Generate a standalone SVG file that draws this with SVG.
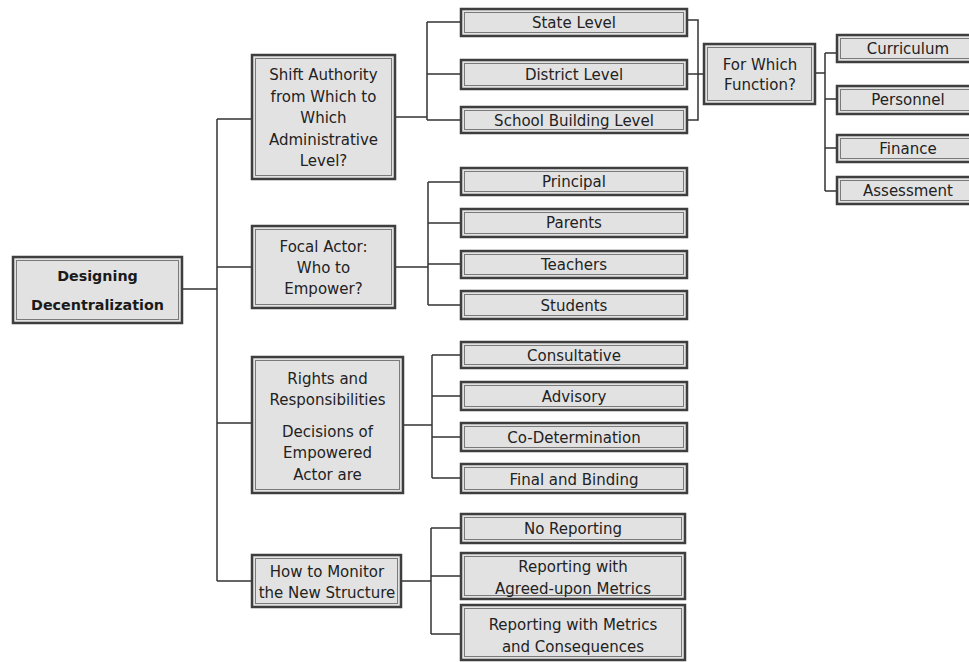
<svg xmlns="http://www.w3.org/2000/svg" width="969" height="662" viewBox="0 0 969 662">
<defs>
<style>
.bx{fill:#e2e2e2;stroke:#3e3e3e;stroke-width:2.5}
.in{fill:none;stroke:#7a7a7a;stroke-width:1}
.t{font-family:"DejaVu Sans","Liberation Sans",sans-serif;font-size:15px;fill:#222;text-anchor:middle}
.b{font-family:"DejaVu Sans","Liberation Sans",sans-serif;font-size:14.3px;font-weight:bold;fill:#1a1a1a;text-anchor:middle}
.c{fill:none;stroke:#333;stroke-width:1.5}
</style>
</defs>
<rect width="969" height="662" fill="#ffffff"/>
<g id="connectors">
<path class="c" d="M182,289 H217 M217,119 V581 M217,119 H252 M217,267 H252 M217,423 H252 M217,581 H252"/>
<path class="c" d="M395,117 H427 M427,22 V120 M427,22 H461 M427,74 H461 M427,120 H461"/>
<path class="c" d="M687,20 H698 V120 H687 M687,74 H704"/>
<path class="c" d="M815,73 H825 M825,53 V191 M825,53 H837 M825,99 H837 M825,148 H837 M825,191 H837"/>
<path class="c" d="M395,267 H428 M428,182 V305 M428,182 H461 M428,223 H461 M428,264 H461 M428,305 H461"/>
<path class="c" d="M403,425 H432 M432,355 V478 M432,355 H461 M432,396 H461 M432,437 H461 M432,478 H461"/>
<path class="c" d="M401,581 H431 M431,528 V634 M431,528 H461 M431,576 H461 M431,634 H461"/>
</g>
<g id="root">
<rect class="bx" x="13" y="257" width="169" height="66"/><rect class="in" x="16.5" y="260.5" width="162" height="59"/>
<text class="b" x="97.5" y="281">Designing</text><text class="b" x="97.5" y="310">Decentralization</text>
</g>
<g id="shift">
<rect class="bx" x="252" y="55" width="143" height="124"/><rect class="in" x="255.5" y="58.5" width="136" height="117"/>
<text class="t" x="323.5" y="80">Shift Authority</text><text class="t" x="323.5" y="102">from Which to</text><text class="t" x="323.5" y="123">Which</text><text class="t" x="323.5" y="145">Administrative</text><text class="t" x="323.5" y="166">Level?</text>
</g>
<g id="state"><rect class="bx" x="461" y="9" width="226" height="27"/><rect class="in" x="464.5" y="12.5" width="219" height="20"/><text class="t" x="574" y="28">State Level</text></g>
<g id="district"><rect class="bx" x="461" y="60" width="226" height="29"/><rect class="in" x="464.5" y="63.5" width="219" height="22"/><text class="t" x="574" y="80">District Level</text></g>
<g id="school"><rect class="bx" x="461" y="107" width="226" height="26"/><rect class="in" x="464.5" y="110.5" width="219" height="19"/><text class="t" x="574" y="126">School Building Level</text></g>
<g id="function"><rect class="bx" x="704" y="44" width="111" height="60"/><rect class="in" x="707.5" y="47.5" width="104" height="53"/><text class="t" x="760" y="70">For Which</text><text class="t" x="760" y="90">Function?</text></g>
<g id="curriculum"><rect class="bx" x="837" y="35" width="142" height="27"/><rect class="in" x="840.5" y="38.5" width="135" height="20"/><text class="t" x="908" y="54">Curriculum</text></g>
<g id="personnel"><rect class="bx" x="837" y="86" width="142" height="28"/><rect class="in" x="840.5" y="89.5" width="135" height="21"/><text class="t" x="908" y="105">Personnel</text></g>
<g id="finance"><rect class="bx" x="837" y="135" width="142" height="27"/><rect class="in" x="840.5" y="138.5" width="135" height="20"/><text class="t" x="908" y="154">Finance</text></g>
<g id="assessment"><rect class="bx" x="837" y="177" width="142" height="27"/><rect class="in" x="840.5" y="180.5" width="135" height="20"/><text class="t" x="908" y="196">Assessment</text></g>
<g id="focal"><rect class="bx" x="252" y="226" width="143" height="82"/><rect class="in" x="255.5" y="229.5" width="136" height="75"/><text class="t" x="323.5" y="252">Focal Actor:</text><text class="t" x="323.5" y="273">Who to</text><text class="t" x="323.5" y="294">Empower?</text></g>
<g id="principal"><rect class="bx" x="461" y="168" width="226" height="27"/><rect class="in" x="464.5" y="171.5" width="219" height="20"/><text class="t" x="574" y="187">Principal</text></g>
<g id="parents"><rect class="bx" x="461" y="209" width="226" height="28"/><rect class="in" x="464.5" y="212.5" width="219" height="21"/><text class="t" x="574" y="228">Parents</text></g>
<g id="teachers"><rect class="bx" x="461" y="251" width="226" height="27"/><rect class="in" x="464.5" y="254.5" width="219" height="20"/><text class="t" x="574" y="270">Teachers</text></g>
<g id="students"><rect class="bx" x="461" y="291" width="226" height="28"/><rect class="in" x="464.5" y="294.5" width="219" height="21"/><text class="t" x="574" y="311">Students</text></g>
<g id="rights"><rect class="bx" x="252" y="357" width="151" height="136"/><rect class="in" x="255.5" y="360.5" width="144" height="129"/><text class="t" x="327.5" y="384">Rights and</text><text class="t" x="327.5" y="405">Responsibilities</text><text class="t" x="327.5" y="437">Decisions of</text><text class="t" x="327.5" y="458">Empowered</text><text class="t" x="327.5" y="480">Actor are</text></g>
<g id="consultative"><rect class="bx" x="461" y="342" width="226" height="26"/><rect class="in" x="464.5" y="345.5" width="219" height="19"/><text class="t" x="574" y="361">Consultative</text></g>
<g id="advisory"><rect class="bx" x="461" y="382" width="226" height="28"/><rect class="in" x="464.5" y="385.5" width="219" height="21"/><text class="t" x="574" y="402">Advisory</text></g>
<g id="codetermination"><rect class="bx" x="461" y="423" width="226" height="28"/><rect class="in" x="464.5" y="426.5" width="219" height="21"/><text class="t" x="574" y="443">Co-Determination</text></g>
<g id="final"><rect class="bx" x="461" y="464" width="226" height="29"/><rect class="in" x="464.5" y="467.5" width="219" height="22"/><text class="t" x="574" y="485">Final and Binding</text></g>
<g id="monitor"><rect class="bx" x="252" y="555" width="149" height="52"/><rect class="in" x="255.5" y="558.5" width="142" height="45"/><text class="t" x="327" y="577">How to Monitor</text><text class="t" x="327" y="598">the New Structure</text></g>
<g id="noreporting"><rect class="bx" x="461" y="514" width="224" height="29"/><rect class="in" x="464.5" y="517.5" width="217" height="22"/><text class="t" x="573" y="534">No Reporting</text></g>
<g id="agreed"><rect class="bx" x="461" y="553" width="224" height="46"/><rect class="in" x="464.5" y="556.5" width="217" height="39"/><text class="t" x="573" y="572">Reporting with</text><text class="t" x="573" y="594">Agreed-upon Metrics</text></g>
<g id="consequences"><rect class="bx" x="461" y="605" width="224" height="55"/><rect class="in" x="464.5" y="608.5" width="217" height="48"/><text class="t" x="573" y="630">Reporting with Metrics</text><text class="t" x="573" y="652">and Consequences</text></g>
</svg>
